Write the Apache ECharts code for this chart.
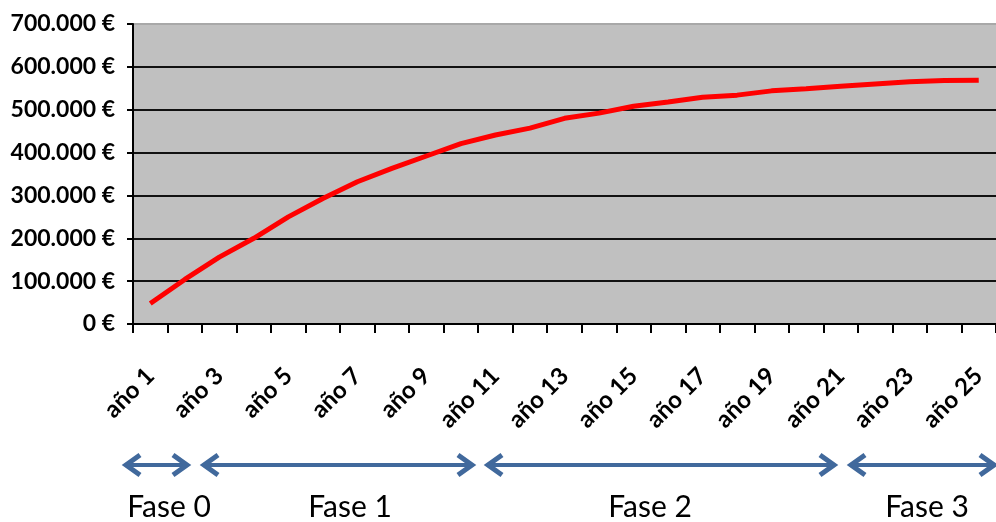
<!DOCTYPE html>
<html><head><meta charset="utf-8">
<script src="https://cdn.jsdelivr.net/npm/echarts@6/dist/echarts.min.js"></script>
<style>html,body{margin:0;padding:0;background:#fff;overflow:hidden}#c{width:996px;height:522px}</style>
</head><body><div id="c"></div>
<script>
const categories = ['año 1','año 2','año 3','año 4','año 5','año 6','año 7','año 8','año 9','año 10',
  'año 11','año 12','año 13','año 14','año 15','año 16','año 17','año 18','año 19','año 20',
  'año 21','año 22','año 23','año 24','año 25'];
const values = [48000, 104000, 156000, 200000, 250000, 293000, 332000, 363000, 392000, 421000,
  441000, 457000, 480000, 492000, 508000, 518000, 529000, 534000, 544000, 549000,
  555000, 560000, 565000, 568000, 569000];
const yMin = 0, yMax = 700000, yStep = 100000;
const phases = ['Fase 0', 'Fase 1', 'Fase 2', 'Fase 3'];

// layout of the phase annotations (pixels)
const arrowSpans = [[125,188],[203,473],[487,835],[850,995]];
const labelCenters = [169,350,650,927];
const arrowY = 465, labelY = 507;
const blue = '#41699C';

function fmt(v){
  const s = String(Math.round(v)).replace(/\B(?=(\d{3})+(?!\d))/g, '.');
  return s + ' €';
}

const graphics = [];
arrowSpans.forEach(([a,b], i) => {
  graphics.push({type:'line', shape:{x1:a+2,y1:arrowY,x2:b-2,y2:arrowY}, style:{stroke:blue,lineWidth:4}, silent:true});
  graphics.push({type:'polyline', shape:{points:[[a+15,arrowY-10],[a+1,arrowY],[a+15,arrowY+10]]}, style:{stroke:blue,lineWidth:5,fill:null,lineJoin:'miter'}, silent:true});
  graphics.push({type:'polyline', shape:{points:[[b-15,arrowY-10],[b-1,arrowY],[b-15,arrowY+10]]}, style:{stroke:blue,lineWidth:5,fill:null,lineJoin:'miter'}, silent:true});
  graphics.push({type:'text', x:labelCenters[i], y:labelY, style:{text:phases[i], fill:'#000', font:'30px Lato', textAlign:'center', textVerticalAlign:'middle'}, silent:true});
});

const chart = echarts.init(document.getElementById('c'), null, {renderer:'canvas'});
chart.setOption({
  animation:false,
  grid:{left:133, top:24, width:864, height:300, show:true, backgroundColor:'#C0C0C0', borderWidth:0},
  xAxis:{
    type:'category', data:categories, boundaryGap:true,
    axisLine:{lineStyle:{color:'#000', width:2}},
    axisTick:{show:true, interval:0, length:9, lineStyle:{color:'#000', width:2}},
    axisLabel:{interval:1, rotate:45, margin:48, color:'#000', fontFamily:'Lato', fontWeight:'bold', fontSize:24}
  },
  yAxis:{
    type:'value', min:yMin, max:yMax, interval:yStep,
    axisLine:{show:true, lineStyle:{color:'#000', width:2}},
    axisTick:{show:true, length:6, lineStyle:{color:'#000', width:2}},
    axisLabel:{formatter:fmt, margin:18, color:'#000', fontFamily:'Lato', fontWeight:'bold', fontSize:23},
    splitLine:{show:true, lineStyle:{color:['#111','#111','#111','#111','#111','#111','#111','#A8A8A8'], width:2}}
  },
  series:[{
    type:'line', data:values, showSymbol:false, symbol:'none',
    lineStyle:{color:'#FF0000', width:5}, itemStyle:{color:'#FF0000'}
  }],
  graphic:graphics
});
</script></body></html>
